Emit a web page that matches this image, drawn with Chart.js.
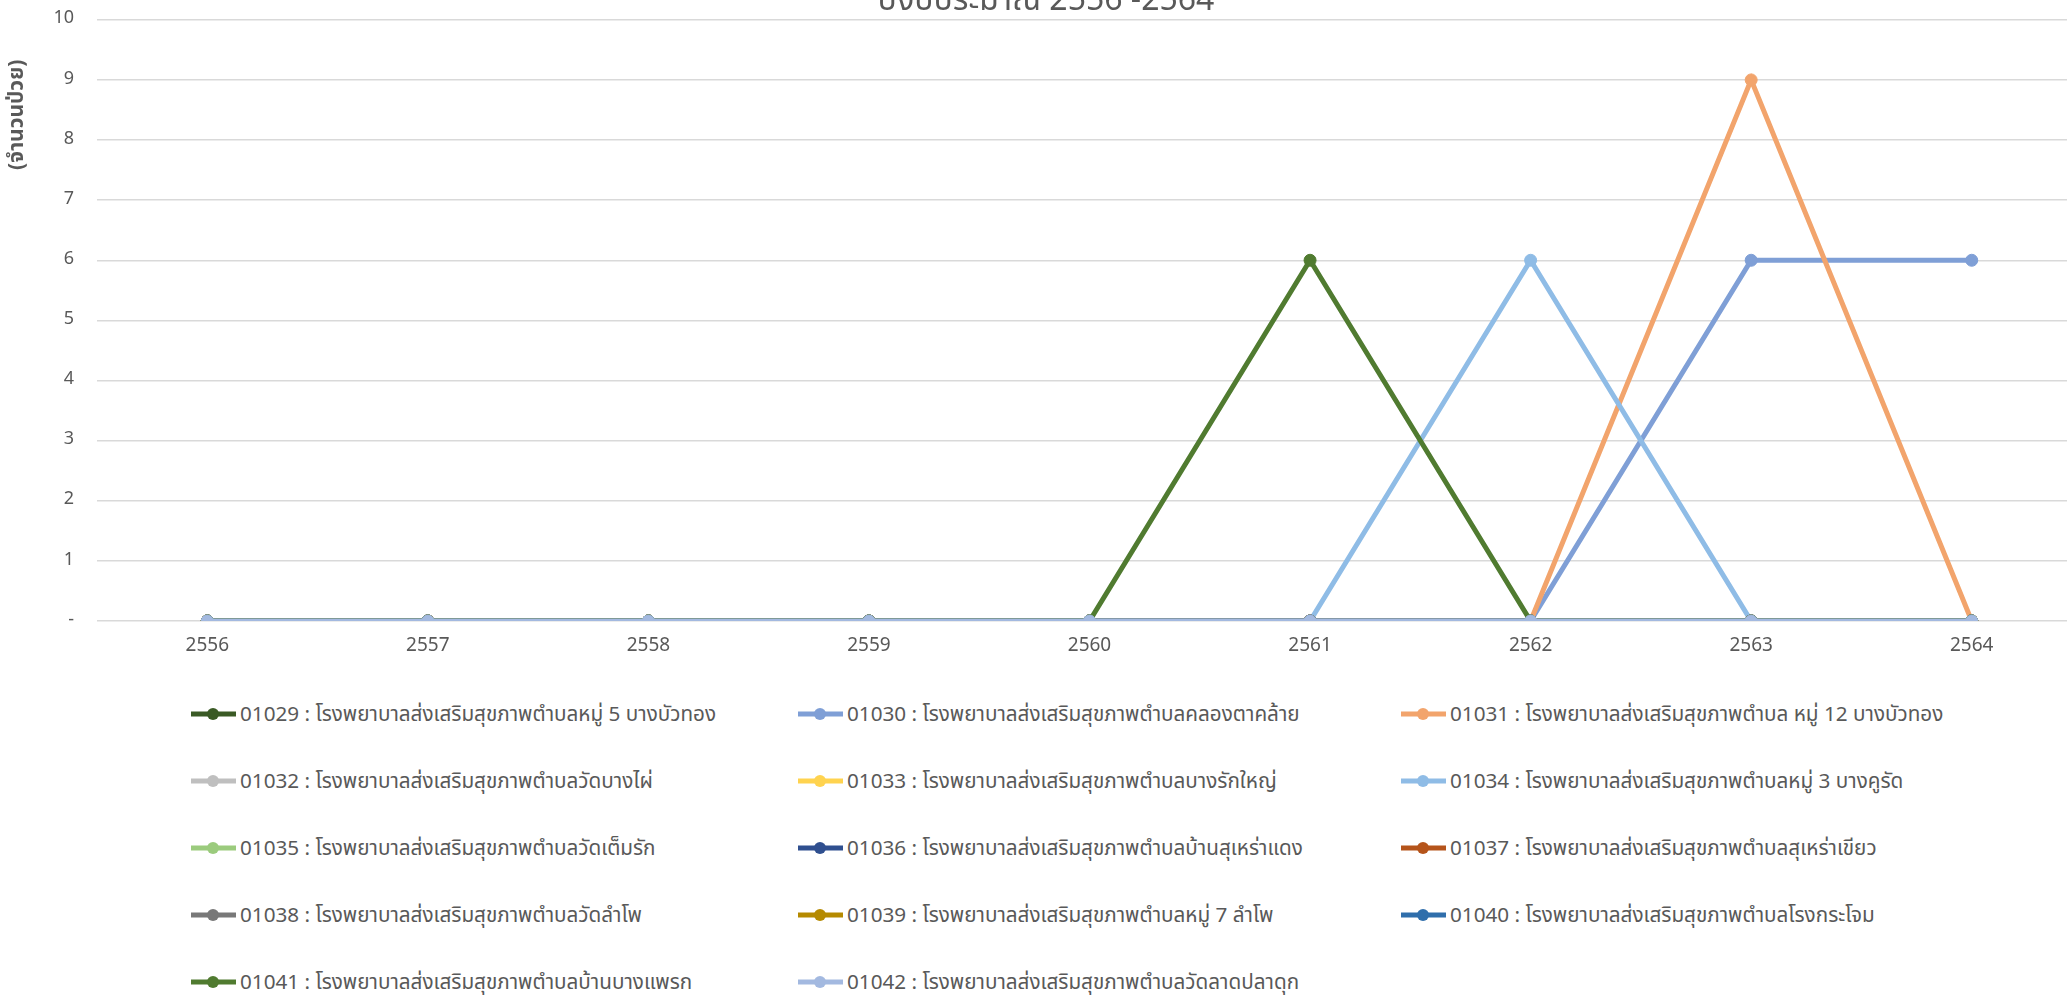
<!DOCTYPE html>
<html lang="th">
<head>
<meta charset="utf-8">
<title>ปีงบประมาณ 2556 -2564</title>
<script src="https://cdn.jsdelivr.net/npm/chart.js@4.4.1/dist/chart.umd.min.js"></script>
<style>
  html, body { margin: 0; padding: 0; background: #fff; overflow: hidden; width: 2067px; height: 995px; }
  #wrap { position: absolute; left: 0; top: -14px; width: 2100px; height: 685px; }
  #legend { position: absolute; left: 190px; top: 697px; display: grid;
    grid-template-columns: 607px 603px 600px; grid-auto-rows: 67px;
    font-family: Tahoma, "Noto Sans Thai", "Noto Sans", sans-serif; font-size: 20.7px; color: #595959; }
  .item { display: flex; align-items: center; height: 34px; white-space: nowrap; }
  .item svg { flex: none; margin-right: 3px; }
</style>
</head>
<body>
<div id="wrap"><canvas id="chart" width="2100" height="685"></canvas></div>
<div id="legend"></div>
<script>
const years = ['2556', '2557', '2558', '2559', '2560', '2561', '2562', '2563', '2564'];

const codes = ['01029', '01030', '01031', '01032', '01033', '01034', '01035',
    '01036', '01037', '01038', '01039', '01040', '01041', '01042'];

const names = [
    'โรงพยาบาลส่งเสริมสุขภาพตำบลหมู่ 5 บางบัวทอง',
    'โรงพยาบาลส่งเสริมสุขภาพตำบลคลองตาคล้าย',
    'โรงพยาบาลส่งเสริมสุขภาพตำบล หมู่ 12 บางบัวทอง',
    'โรงพยาบาลส่งเสริมสุขภาพตำบลวัดบางไผ่',
    'โรงพยาบาลส่งเสริมสุขภาพตำบลบางรักใหญ่',
    'โรงพยาบาลส่งเสริมสุขภาพตำบลหมู่ 3 บางคูรัด',
    'โรงพยาบาลส่งเสริมสุขภาพตำบลวัดเต็มรัก',
    'โรงพยาบาลส่งเสริมสุขภาพตำบลบ้านสุเหร่าแดง',
    'โรงพยาบาลส่งเสริมสุขภาพตำบลสุเหร่าเขียว',
    'โรงพยาบาลส่งเสริมสุขภาพตำบลวัดลำโพ',
    'โรงพยาบาลส่งเสริมสุขภาพตำบลหมู่ 7 ลำโพ',
    'โรงพยาบาลส่งเสริมสุขภาพตำบลโรงกระโจม',
    'โรงพยาบาลส่งเสริมสุขภาพตำบลบ้านบางแพรก',
    'โรงพยาบาลส่งเสริมสุขภาพตำบลวัดลาดปลาดุก'
];

// patients per year, one list per hospital
const v01029 = [0, 0, 0, 0, 0, 0, 0, 0, 0];
const v01030 = [0, 0, 0, 0, 0, 0, 0, 6, 6];
const v01031 = [0, 0, 0, 0, 0, 0, 0, 9, 0];
const v01032 = [0, 0, 0, 0, 0, 0, 0, 0, 0];
const v01033 = [0, 0, 0, 0, 0, 0, 0, 0, 0];
const v01034 = [0, 0, 0, 0, 0, 0, 6, 0, 0];
const v01035 = [0, 0, 0, 0, 0, 0, 0, 0, 0];
const v01036 = [0, 0, 0, 0, 0, 0, 0, 0, 0];
const v01037 = [0, 0, 0, 0, 0, 0, 0, 0, 0];
const v01038 = [0, 0, 0, 0, 0, 0, 0, 0, 0];
const v01039 = [0, 0, 0, 0, 0, 0, 0, 0, 0];
const v01040 = [0, 0, 0, 0, 0, 0, 0, 0, 0];
const v01041 = [0, 0, 0, 0, 0, 6, 0, 0, 0];
const v01042 = [0, 0, 0, 0, 0, 0, 0, 0, 0];

const yTicks = ['-', '1', '2', '3', '4', '5', '6', '7', '8', '9', '10'];

const chartTitle = 'ปีงบประมาณ 2556 -2564';
const yTitle = '(จำนวนป่วย)';

const values = [v01029, v01030, v01031, v01032, v01033, v01034, v01035,
    v01036, v01037, v01038, v01039, v01040, v01041, v01042];

const colors = ['#3a5a25', '#7f9fd6', '#f2a46c', '#bfbfbf', '#ffd34f', '#8fbce6', '#9bcb7d',
    '#2f4f8f', '#b5541b', '#787878', '#b58a00', '#2f6eab', '#507b30', '#a3b9e0'];

const font = 'Tahoma, "Noto Sans Thai", "Noto Sans", sans-serif';
const grey = '#595959';

const datasets = codes.map((code, i) => ({
    label: code + ' : ' + names[i],
    data: values[i],
    borderColor: colors[i],
    backgroundColor: colors[i],
    pointBackgroundColor: colors[i],
    pointBorderColor: colors[i],
    borderWidth: 5,
    pointRadius: 6,
    pointBorderWidth: 1,
    tension: 0,
    fill: false,
    order: codes.length - i  // later series drawn on top, like Excel
}));

// title (only its lower edge shows) and the rotated y label
const textPlugin = {
    id: 'texts',
    afterDraw(chart) {
        const c = chart.ctx;
        const area = chart.chartArea;
        c.save();
        c.fillStyle = grey;
        c.font = '32px ' + font;
        c.textAlign = 'center';
        c.textBaseline = 'alphabetic';
        c.fillText(chartTitle, 1046, 24);
        c.font = 'bold 21px ' + font;
        c.translate(19, area.top + 95);
        c.rotate(-Math.PI / 2);
        c.textBaseline = 'middle';
        c.fillText(yTitle, 0, 0);
        c.restore();
    }
};

const ctx = document.getElementById('chart').getContext('2d');
const chart = new Chart(ctx, {
    type: 'line',
    data: { labels: years, datasets: datasets },
    options: {
        responsive: false,
        animation: false,
        devicePixelRatio: 1,
        layout: { padding: { top: 3, right: 18, left: 0, bottom: 0 } },
        plugins: {
            legend: { display: false },
            title: { display: false }
        },
        scales: {
            x: {
                offset: true,
                grid: { display: false, drawTicks: false },
                border: { display: false },
                ticks: { color: grey, font: { family: font, size: 19 }, padding: 15, maxRotation: 0 },
                afterFit(scale) { scale.height = 50; }
            },
            y: {
                min: 0,
                max: 10,
                grid: { color: '#d9d9d9', lineWidth: 1.5, drawTicks: false },
                border: { display: false },
                ticks: {
                    stepSize: 1,
                    color: grey,
                    font: { family: font, size: 18 },
                    padding: 23,
                    callback: v => yTicks[v]
                },
                afterFit(scale) { scale.width = 97; }
            }
        }
    },
    plugins: [textPlugin]
});

// legend in three columns
const legend = document.getElementById('legend');
datasets.forEach(ds => {
    const item = document.createElement('div');
    item.className = 'item';
    item.innerHTML = `
    <svg width="47" height="14"><line x1="1" y1="7" x2="46" y2="7" stroke="${ds.borderColor}" stroke-width="5"/>
    <circle cx="23" cy="7" r="6" fill="${ds.borderColor}"/></svg><span>${ds.label}</span>`;
    legend.appendChild(item);
});
</script>
</body>
</html>
